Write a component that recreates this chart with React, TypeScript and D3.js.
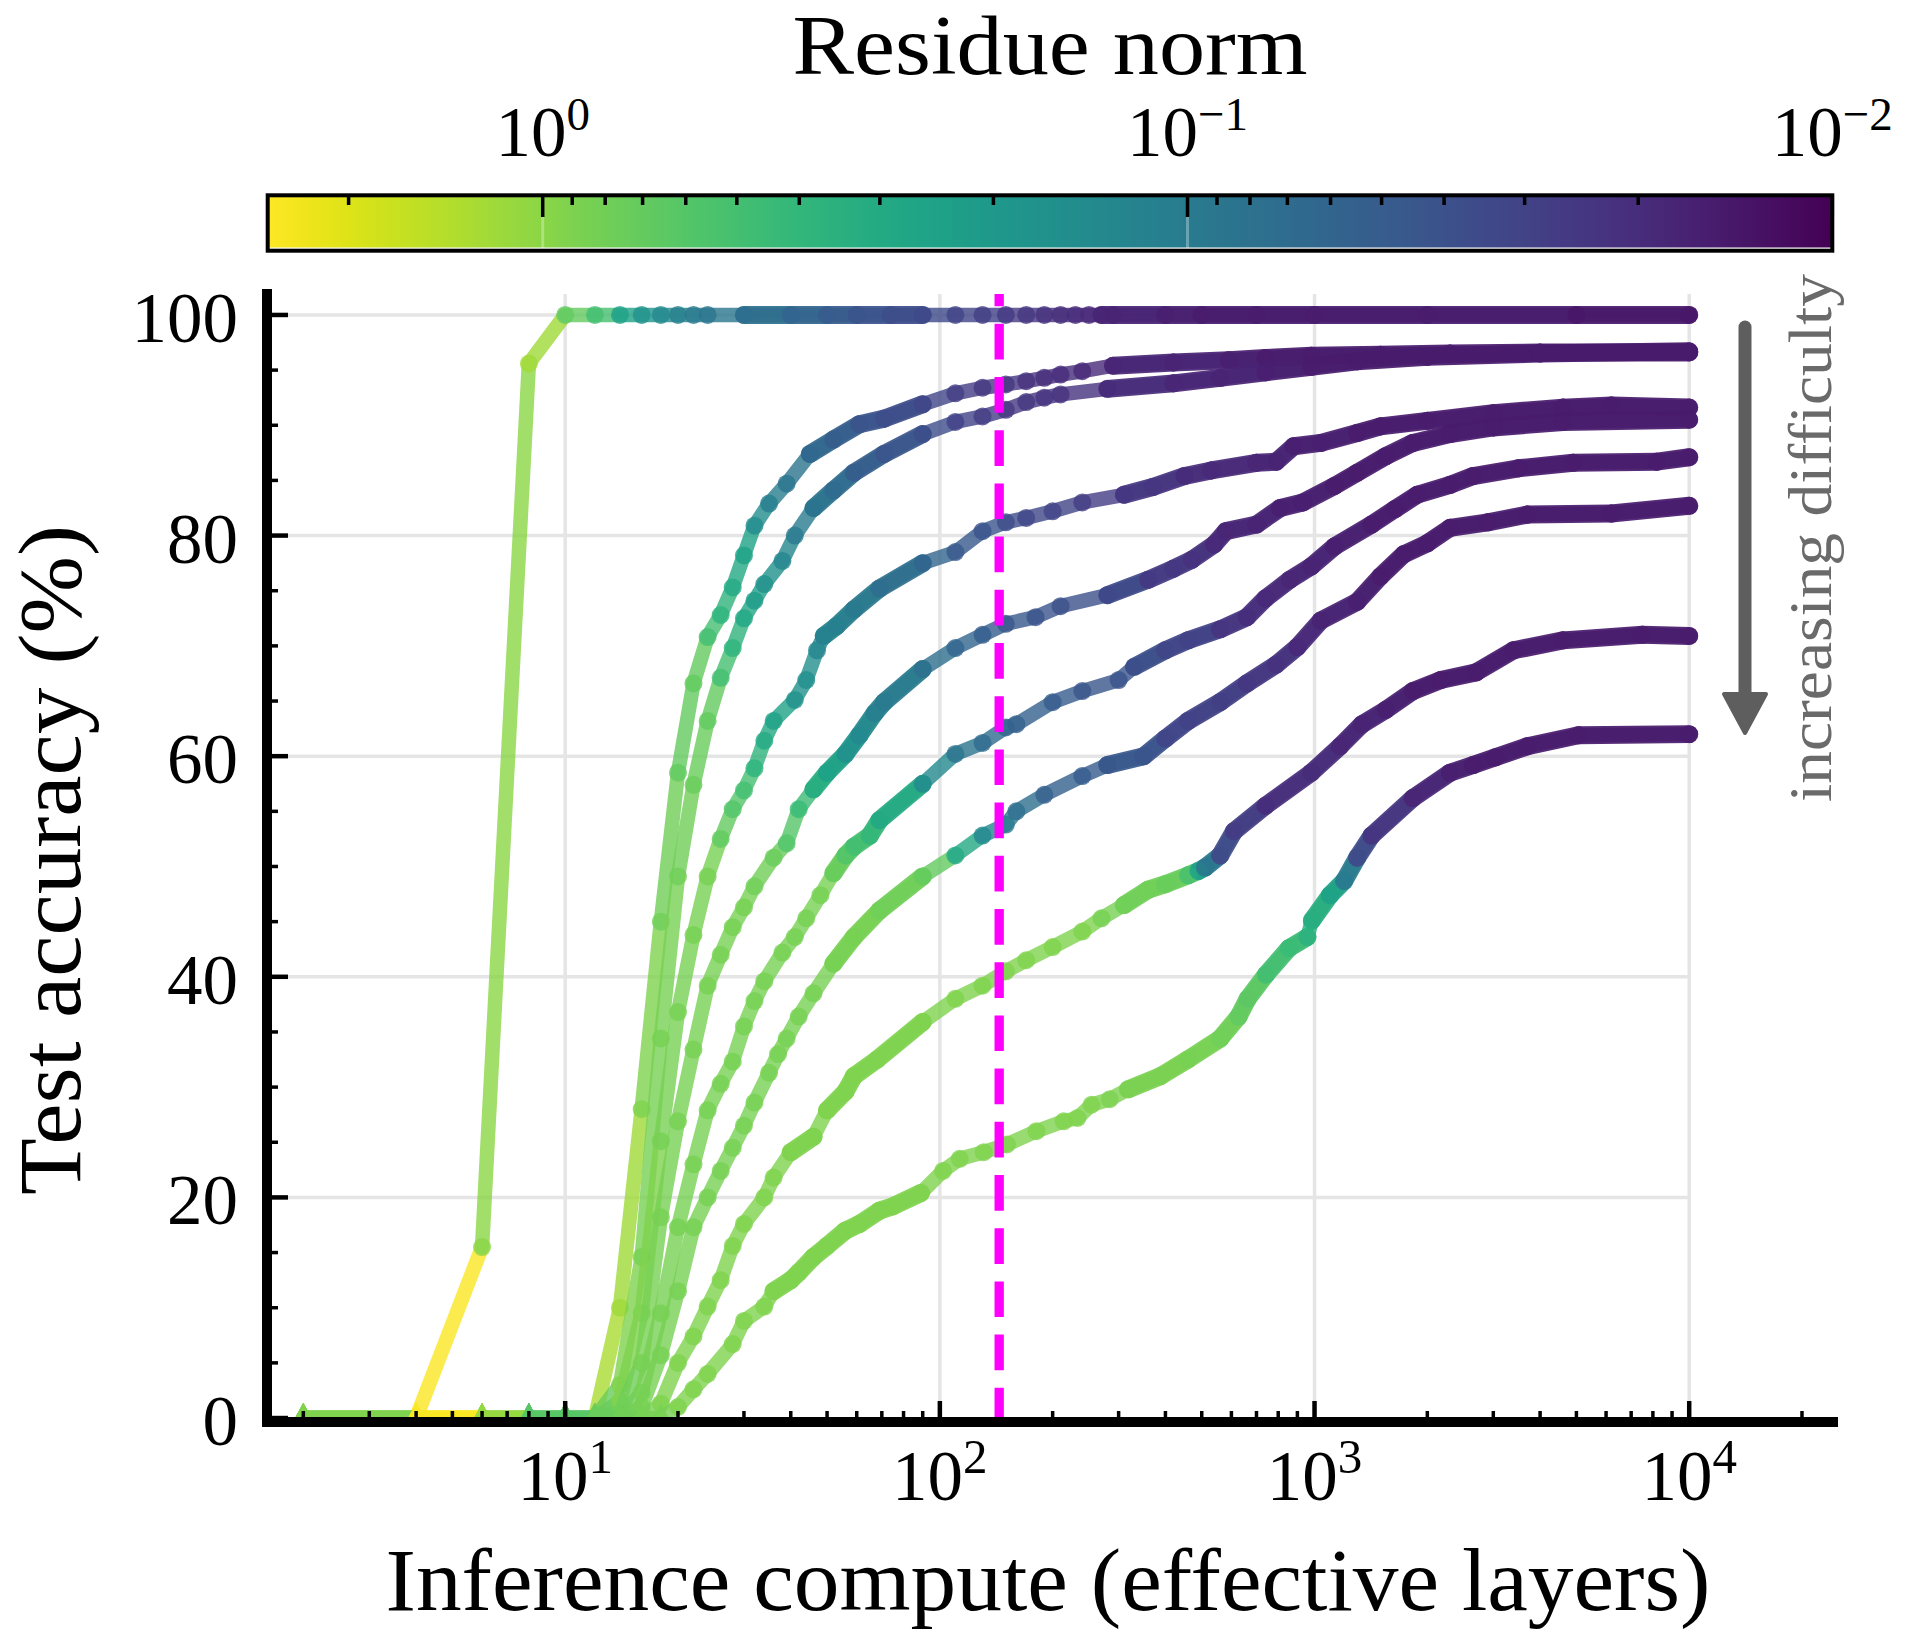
import { useEffect, useRef } from 'react';
import * as d3 from 'd3';

// one set per difficulty level: compute (effective layers), accuracy (%), residue norm
const computeL1 = [2, 4, 6, 8, 10, 12, 14, 16, 18, 20, 22, 24, 30, 40, 50, 60, 74, 90, 110, 130, 150, 170, 190, 210, 230, 250, 270, 290, 400, 500, 700, 1000, 2000, 5000, 10000];
const accuracyL1 = [0, 0, 15.5, 95.6, 100, 100, 100, 100, 100, 100, 100, 100, 100, 100, 100, 100, 100, 100, 100, 100, 100, 100, 100, 100, 100, 100, 100, 100, 100, 100, 100, 100, 100, 100, 100];
const residueL1 = [0.9, 2.6, 1.0, 1.2, 0.7, 0.5, 0.25, 0.18, 0.14, 0.115, 0.1, 0.09, 0.075, 0.06, 0.05, 0.043, 0.037, 0.034, 0.031, 0.028, 0.026, 0.024, 0.022, 0.021, 0.02, 0.019, 0.018, 0.017, 0.016, 0.015, 0.015, 0.015, 0.015, 0.014, 0.014];

const computeL2 = [2, 4, 6, 8, 10, 12, 14, 16, 18, 20, 22, 24, 26, 28, 30, 32, 35, 39, 45, 52, 61, 71, 90, 110, 130, 150, 170, 190, 210, 240, 290, 420, 590, 740, 980, 1500, 2300, 4000, 10000];
const accuracyL2 = [0, 0, 0, 0, 0, 0, 10, 28, 45, 58.5, 66.6, 70.8, 72.8, 75.3, 78.2, 80.9, 82.9, 84.7, 87.4, 88.7, 90.1, 90.6, 91.9, 92.9, 93.4, 93.7, 94.0, 94.3, 94.6, 94.9, 95.4, 95.7, 95.9, 96.1, 96.3, 96.4, 96.5, 96.6, 96.6];
const residueL2 = [0.9, 2.6, 1.1, 0.62, 0.62, 1.3, 1.2, 0.9, 0.8, 0.7, 0.7, 0.5, 0.38, 0.3, 0.25, 0.15, 0.11, 0.085, 0.065, 0.052, 0.043, 0.037, 0.032, 0.027, 0.025, 0.024, 0.022, 0.021, 0.02, 0.019, 0.018, 0.017, 0.016, 0.015, 0.015, 0.015, 0.015, 0.015, 0.015];

const computeL3 = [2, 4, 6, 8, 10, 12, 14, 16, 18, 20, 22, 24, 26, 28, 30, 32, 34, 38, 41, 46, 52, 59, 71, 90, 110, 130, 150, 170, 190, 210, 280, 420, 560, 740, 980, 1300, 2000, 4000, 10000];
const accuracyL3 = [0, 0, 0, 0, 0, 0, 3, 14.6, 34.4, 49.1, 57.4, 63.2, 67.1, 69.8, 72.5, 74.1, 75.6, 77.7, 80.0, 82.5, 84.1, 85.7, 87.4, 89.2, 90.3, 90.8, 91.4, 92.1, 92.5, 92.8, 93.3, 93.8, 94.3, 94.8, 95.3, 95.8, 96.2, 96.5, 96.7];
const residueL3 = [0.9, 2.6, 1.1, 0.62, 0.62, 0.74, 0.9, 0.85, 0.85, 0.8, 0.75, 0.7, 0.5, 0.38, 0.28, 0.22, 0.17, 0.13, 0.1, 0.085, 0.07, 0.052, 0.045, 0.037, 0.03, 0.027, 0.025, 0.024, 0.023, 0.022, 0.02, 0.018, 0.017, 0.016, 0.015, 0.015, 0.015, 0.015, 0.015];

const computeL4 = [2, 4, 6, 8, 10, 12, 14, 16, 18, 20, 22, 24, 26, 28, 30, 32, 34, 36, 41, 44, 47, 49, 53, 59, 69, 90, 110, 130, 150, 170, 200, 240, 310, 370, 450, 530, 700, 790, 880, 1040, 1300, 1500, 2000, 3000, 4600, 6200, 10000];
const accuracyL4 = [0, 0, 0, 0, 0, 0, 1.5, 9.5, 25.1, 36.8, 43.8, 49.1, 52.5, 55.2, 56.9, 58.9, 61.4, 63.2, 65.1, 66.9, 69.6, 70.9, 71.8, 73.3, 75.2, 77.5, 78.5, 80.4, 81.2, 81.6, 82.2, 83.0, 83.7, 84.4, 85.4, 85.9, 86.6, 86.7, 88.1, 88.4, 89.3, 89.9, 90.4, 91.1, 91.6, 91.8, 91.6];
const residueL4 = [0.9, 2.6, 1.1, 0.62, 0.62, 0.74, 0.9, 0.9, 0.85, 0.85, 0.85, 0.85, 0.7, 0.6, 0.5, 0.38, 0.3, 0.25, 0.17, 0.16, 0.13, 0.12, 0.11, 0.095, 0.075, 0.06, 0.048, 0.043, 0.037, 0.033, 0.031, 0.027, 0.024, 0.023, 0.02, 0.019, 0.018, 0.017, 0.016, 0.016, 0.015, 0.015, 0.015, 0.015, 0.015, 0.015, 0.015];

const computeL5 = [2, 4, 6, 8, 10, 12, 14, 16, 18, 20, 22, 24, 26, 28, 30, 32, 36, 39, 42, 46, 50, 56, 61, 67, 71, 90, 110, 130, 150, 180, 210, 280, 360, 420, 470, 540, 580, 700, 810, 930, 1130, 1300, 1550, 1830, 2300, 3000, 4600, 10000];
const accuracyL5 = [0, 0, 0, 0, 0, 0, 0.5, 5.0, 18.2, 26.9, 33.4, 39.2, 42.0, 44.5, 46.3, 48.2, 50.8, 52.1, 55.2, 57.0, 58.5, 60.2, 61.9, 63.9, 64.9, 67.9, 69.8, 71.0, 72.0, 72.6, 73.6, 74.6, 76.0, 77.0, 77.8, 79.2, 80.4, 81.0, 82.5, 83.0, 84.5, 85.7, 87.2, 88.4, 89.2, 89.8, 90.3, 90.5];
const residueL5 = [0.9, 2.6, 1.1, 0.62, 0.62, 0.74, 0.8, 0.85, 0.85, 0.85, 0.85, 0.85, 0.85, 0.85, 0.85, 0.8, 0.75, 0.6, 0.45, 0.33, 0.25, 0.17, 0.14, 0.11, 0.1, 0.075, 0.06, 0.052, 0.047, 0.043, 0.04, 0.034, 0.026, 0.024, 0.022, 0.019, 0.018, 0.017, 0.016, 0.016, 0.015, 0.015, 0.015, 0.015, 0.015, 0.015, 0.015, 0.015];

const computeL6 = [2, 4, 6, 8, 10, 12, 14, 16, 18, 20, 22, 24, 26, 28, 30, 32, 34, 38, 41, 44, 48, 52, 56, 59, 65, 69, 90, 110, 130, 150, 160, 200, 240, 300, 330, 400, 460, 560, 660, 740, 860, 980, 1130, 1420, 1640, 1880, 2300, 2650, 3500, 4900, 8200, 10000];
const accuracyL6 = [0, 0, 0, 0, 0, 0, 0, 2.3, 9.5, 17.3, 23.0, 27.9, 30.3, 32.3, 35.5, 37.8, 39.6, 42.2, 43.6, 45.3, 47.4, 49.4, 51.0, 51.8, 52.8, 54.2, 57.5, 60.2, 61.2, 62.6, 62.9, 64.9, 65.9, 66.9, 68.1, 69.6, 70.5, 71.5, 72.6, 74.3, 76.0, 77.2, 79.0, 81.0, 82.4, 83.7, 84.6, 85.4, 86.1, 86.6, 86.7, 87.1];
const residueL6 = [0.9, 2.6, 1.1, 0.62, 0.62, 0.74, 0.8, 0.85, 0.85, 0.85, 0.85, 0.85, 0.85, 0.85, 0.85, 0.85, 0.85, 0.85, 0.85, 0.85, 0.85, 0.75, 0.6, 0.5, 0.4, 0.3, 0.14, 0.085, 0.07, 0.06, 0.055, 0.05, 0.045, 0.043, 0.038, 0.032, 0.03, 0.023, 0.021, 0.019, 0.018, 0.017, 0.016, 0.015, 0.015, 0.015, 0.015, 0.015, 0.015, 0.015, 0.015, 0.015];

const computeL7 = [2, 4, 6, 8, 10, 12, 14, 16, 18, 20, 22, 24, 26, 28, 30, 32, 35, 37, 39, 42, 46, 52, 59, 69, 90, 110, 130, 150, 160, 190, 240, 280, 350, 400, 460, 560, 660, 790, 900, 1040, 1300, 1500, 1730, 2000, 2300, 2900, 3700, 6200, 10000];
const accuracyL7 = [0, 0, 0, 0, 0, 0, 0, 1, 5.7, 11.5, 17.3, 20.0, 22.4, 24.5, 26.5, 28.6, 31.3, 33.0, 34.4, 36.4, 38.5, 41.2, 43.6, 46.0, 49.1, 51.0, 52.8, 53.8, 55.0, 56.5, 58.2, 59.2, 60.0, 61.6, 63.2, 64.9, 66.6, 68.3, 69.9, 72.3, 74.0, 76.3, 78.3, 79.3, 80.7, 81.2, 81.9, 82.0, 82.7];
const residueL7 = [0.9, 2.6, 1.1, 0.62, 0.62, 0.74, 0.8, 0.85, 0.85, 0.85, 0.85, 0.85, 0.85, 0.85, 0.85, 0.85, 0.85, 0.85, 0.85, 0.85, 0.85, 0.85, 0.85, 0.8, 0.7, 0.3, 0.14, 0.1, 0.075, 0.055, 0.05, 0.046, 0.043, 0.032, 0.03, 0.028, 0.024, 0.022, 0.019, 0.017, 0.016, 0.015, 0.015, 0.015, 0.015, 0.015, 0.015, 0.015, 0.015];

const computeL8 = [2, 4, 6, 8, 10, 12, 14, 16, 18, 20, 22, 24, 26, 28, 30, 34, 36, 40, 46, 50, 56, 59, 68, 90, 110, 130, 150, 170, 200, 240, 270, 310, 360, 400, 460, 490, 510, 560, 610, 740, 980, 1170, 1340, 1550, 1830, 2170, 2700, 3400, 4600, 7500, 10000];
const accuracyL8 = [0, 0, 0, 0, 0, 0, 0, 0, 1.3, 5.0, 7.4, 10.1, 12.5, 15.6, 17.6, 20.0, 21.8, 24.1, 25.5, 27.9, 29.6, 31.0, 32.5, 35.9, 38.0, 39.2, 40.5, 41.5, 42.7, 44.1, 45.3, 46.5, 47.9, 48.4, 49.2, 49.6, 49.9, 51.0, 53.2, 55.5, 58.5, 60.9, 62.9, 64.2, 65.9, 66.9, 67.6, 69.6, 70.5, 71.0, 70.9];
const residueL8 = [0.9, 2.6, 1.1, 0.62, 0.62, 0.74, 0.8, 0.85, 0.9, 0.9, 0.9, 0.9, 0.9, 0.9, 0.9, 0.9, 0.9, 0.9, 0.9, 0.9, 0.9, 0.9, 0.9, 0.9, 0.9, 0.9, 0.9, 0.9, 0.9, 0.9, 0.85, 0.8, 0.8, 0.75, 0.55, 0.25, 0.09, 0.036, 0.027, 0.021, 0.02, 0.018, 0.017, 0.016, 0.015, 0.015, 0.015, 0.015, 0.015, 0.015, 0.015];

const computeL9 = [2, 4, 6, 8, 10, 12, 14, 16, 18, 20, 22, 24, 28, 30, 34, 36, 40, 42, 46, 50, 56, 61, 69, 75, 89, 102, 113, 131, 151, 181, 214, 233, 254, 284, 318, 388, 459, 560, 627, 663, 742, 855, 957, 984, 1100, 1200, 1300, 1420, 1830, 2300, 2650, 3040, 3700, 5060, 10000];
const accuracyL9 = [0, 0, 0, 0, 0, 0, 0, 0, 0, 1.0, 2.6, 4.0, 6.7, 8.8, 10.1, 11.5, 12.5, 13.2, 14.6, 15.6, 17.0, 17.6, 18.8, 19.2, 20.4, 22.4, 23.5, 24.1, 24.8, 26.0, 26.9, 27.2, 28.4, 28.9, 29.8, 31.0, 32.5, 34.4, 36.4, 38.0, 40.2, 42.6, 43.6, 45.1, 47.4, 48.7, 50.8, 52.8, 56.2, 58.5, 59.2, 59.9, 60.9, 61.9, 62.0];
const residueL9 = [0.9, 2.6, 1.1, 0.62, 0.62, 0.74, 0.8, 0.85, 0.85, 0.9, 0.9, 0.9, 0.9, 0.9, 0.9, 0.9, 0.9, 0.9, 0.9, 0.9, 0.9, 0.9, 0.9, 0.9, 0.9, 0.9, 0.9, 0.9, 0.9, 0.9, 0.9, 0.9, 0.9, 0.88, 0.87, 0.86, 0.85, 0.8, 0.7, 0.65, 0.5, 0.45, 0.35, 0.33, 0.25, 0.1, 0.036, 0.023, 0.018, 0.016, 0.015, 0.015, 0.015, 0.015, 0.015];

const xMajorTicks = [10, 100, 1000, 10000];
const xTickExponents = ['1', '2', '3', '4'];
const yMajorTicks = [0, 20, 40, 60, 80, 100];
const yTickLabels = ['0', '20', '40', '60', '80', '100'];
const cbarMajorTicks = [1, 0.1, 0.01];
const cbarTickExponents = ['0', '\u22121', '\u22122'];
const dashedCompute = 144;

const FONT = '"Liberation Serif", "Times New Roman", serif';

function App() {
  const chartRef = useRef<SVGSVGElement>(null);

  useEffect(() => {
    const svg = d3.select(chartRef.current);
    svg.selectAll('*').remove();

    const left = 267, right = 1833, top = 294, bottom = 1422;
    const x = d3.scaleLog().domain([1.6, 24200]).range([left, right]);
    const y = d3.scaleLinear().domain([-0.36, 101.9]).range([bottom, top]);
    const resToUnit = d3.scaleLog().domain([0.01, 2.67]).range([0, 1]).clamp(true);
    const color = (r: number) => d3.interpolateViridis(resToUnit(r));

    const curves = [
      { c: computeL1, a: accuracyL1, r: residueL1 },
      { c: computeL2, a: accuracyL2, r: residueL2 },
      { c: computeL3, a: accuracyL3, r: residueL3 },
      { c: computeL4, a: accuracyL4, r: residueL4 },
      { c: computeL5, a: accuracyL5, r: residueL5 },
      { c: computeL6, a: accuracyL6, r: residueL6 },
      { c: computeL7, a: accuracyL7, r: residueL7 },
      { c: computeL8, a: accuracyL8, r: residueL8 },
      { c: computeL9, a: accuracyL9, r: residueL9 },
    ];

    // minor log ticks
    const minorX: number[] = [];
    [1, 10, 100, 1000, 10000].forEach((d) => {
      for (let k = 2; k <= 9; k++) {
        const v = d * k;
        if (v > 1.6 && v < 24200) minorX.push(v);
      }
    });
    const minorY = d3.range(5, 101, 5).filter((v) => v % 20 !== 0);

    // grid
    const grid = svg.append('g');
    yMajorTicks.filter((t) => t > 0).forEach((t) => {
      grid.append('line')
        .attr('x1', left).attr('x2', x(10000))
        .attr('y1', y(t)).attr('y2', y(t))
        .attr('stroke', '#e5e5e5').attr('stroke-width', 3.5);
    });
    xMajorTicks.forEach((t) => {
      grid.append('line')
        .attr('x1', x(t)).attr('x2', x(t))
        .attr('y1', top).attr('y2', bottom)
        .attr('stroke', '#e5e5e5').attr('stroke-width', 3.5);
    });

    // curves
    curves.forEach((cv) => {
      const pts = cv.c.map((v, i) => ({ x: v, acc: cv.a[i], r: cv.r[i] }));
      const g = svg.append('g');
      const lineG = g.append('g').attr('opacity', 0.8);
      const bandG = g.append('g').attr('opacity', 0.92);
      for (let i = 0; i < pts.length - 1; i++) {
        const p = pts[i], q = pts[i + 1];
        lineG.append('line')
          .attr('x1', x(p.x)).attr('y1', y(p.acc))
          .attr('x2', x(q.x)).attr('y2', y(q.acc))
          .attr('stroke', color(p.r)).attr('stroke-width', 14.5)
          .attr('stroke-linecap', 'round');
        // where the original samples sit closer than a marker, they merge into a band
        const step = p.x < 85 ? 2 : 20;
        const slope = (q.acc - p.acc) / (q.x - p.x);
        const gap = Math.hypot(x(p.x + step) - x(p.x), y(p.acc + slope * step) - y(p.acc));
        if (gap < 12 && p.acc > 0) {
          bandG.append('line')
            .attr('x1', x(p.x)).attr('y1', y(p.acc))
            .attr('x2', x(q.x)).attr('y2', y(q.acc))
            .attr('stroke', color(p.r)).attr('stroke-width', 18)
            .attr('stroke-linecap', 'round');
        }
      }
      pts.forEach((p) => {
        if (p.acc === 0) {
          const cx = x(p.x), cy = y(0);
          g.append('path')
            .attr('d', `M${cx},${cy - 15}L${cx + 13},${cy + 9}L${cx - 13},${cy + 9}Z`)
            .attr('fill', color(p.r)).attr('opacity', 0.9);
        } else {
          g.append('circle')
            .attr('cx', x(p.x)).attr('cy', y(p.acc)).attr('r', 9)
            .attr('fill', color(p.r)).attr('opacity', 0.8);
        }
      });
    });

    // dashed marker
    svg.append('line')
      .attr('x1', x(dashedCompute)).attr('x2', x(dashedCompute))
      .attr('y1', bottom + 1.5).attr('y2', top)
      .attr('stroke', '#ff00ff').attr('stroke-width', 9.3)
      .attr('stroke-dasharray', '35.7 17.5');

    // spines
    svg.append('line')
      .attr('x1', left).attr('x2', left).attr('y1', top).attr('y2', bottom)
      .attr('stroke', '#000').attr('stroke-width', 10).attr('stroke-linecap', 'square');
    svg.append('line')
      .attr('x1', left).attr('x2', right).attr('y1', bottom).attr('y2', bottom)
      .attr('stroke', '#000').attr('stroke-width', 10).attr('stroke-linecap', 'square');

    // ticks
    const ticks = svg.append('g').attr('stroke', '#000');
    yMajorTicks.forEach((t) => {
      ticks.append('line').attr('x1', left).attr('x2', left + 21)
        .attr('y1', y(t)).attr('y2', y(t)).attr('stroke-width', 4.5);
    });
    minorY.forEach((t) => {
      ticks.append('line').attr('x1', left).attr('x2', left + 11)
        .attr('y1', y(t)).attr('y2', y(t)).attr('stroke-width', 3.5);
    });
    xMajorTicks.forEach((t) => {
      ticks.append('line').attr('x1', x(t)).attr('x2', x(t))
        .attr('y1', bottom).attr('y2', bottom - 21).attr('stroke-width', 4.5);
    });
    minorX.forEach((t) => {
      ticks.append('line').attr('x1', x(t)).attr('x2', x(t))
        .attr('y1', bottom).attr('y2', bottom - 11).attr('stroke-width', 3.5);
    });

    // tick labels
    yMajorTicks.forEach((t, i) => {
      svg.append('text')
        .attr('x', 238).attr('y', y(t) + 27)
        .attr('text-anchor', 'end').attr('font-family', FONT).attr('font-size', 71)
        .text(yTickLabels[i]);
    });
    xMajorTicks.forEach((t, i) => {
      const tx = svg.append('text')
        .attr('x', x(t)).attr('y', 1500)
        .attr('text-anchor', 'middle').attr('font-family', FONT).attr('font-size', 71);
      tx.append('tspan').text('10');
      tx.append('tspan').attr('dy', -27).attr('font-size', 49).text(xTickExponents[i]);
    });

    // axis labels
    svg.append('text')
      .attr('x', 1048).attr('y', 1610)
      .attr('text-anchor', 'middle').attr('font-family', FONT).attr('font-size', 88)
      .attr('textLength', 1325).attr('lengthAdjust', 'spacingAndGlyphs')
      .text('Inference compute (effective layers)');
    svg.append('text')
      .attr('transform', 'translate(80,860) rotate(-90)')
      .attr('text-anchor', 'middle').attr('font-family', FONT).attr('font-size', 88)
      .attr('textLength', 670).attr('lengthAdjust', 'spacingAndGlyphs')
      .text('Test accuracy (%)');

    // difficulty arrow
    const arrowColor = '#5e5e5e';
    svg.append('line')
      .attr('x1', 1745).attr('x2', 1745).attr('y1', 327).attr('y2', 700)
      .attr('stroke', arrowColor).attr('stroke-width', 13).attr('stroke-linecap', 'round');
    svg.append('path')
      .attr('d', 'M1724,694L1766,694L1745,733Z')
      .attr('fill', arrowColor).attr('stroke', arrowColor)
      .attr('stroke-width', 4).attr('stroke-linejoin', 'round');
    svg.append('text')
      .attr('transform', 'translate(1831,538) rotate(-90)')
      .attr('text-anchor', 'middle').attr('font-family', FONT).attr('font-size', 62)
      .attr('fill', '#6a6a6a')
      .attr('textLength', 528).attr('lengthAdjust', 'spacingAndGlyphs')
      .text('increasing difficulty');

    // colorbar
    const cbLeft = 267.7, cbRight = 1832.3, cbTop = 195.3, cbBottom = 250.7;
    const cb = d3.scaleLog().domain([2.67, 0.01]).range([cbLeft, cbRight]);
    const defs = svg.append('defs');
    const grad = defs.append('linearGradient').attr('id', 'viridisBar')
      .attr('x1', '0%').attr('x2', '100%').attr('y1', '0%').attr('y2', '0%');
    d3.range(0, 41).forEach((i) => {
      grad.append('stop').attr('offset', `${(i / 40) * 100}%`)
        .attr('stop-color', d3.interpolateViridis(1 - i / 40));
    });
    svg.append('rect')
      .attr('x', cbLeft).attr('y', cbTop).attr('width', cbRight - cbLeft).attr('height', cbBottom - cbTop)
      .attr('fill', 'url(#viridisBar)');
    cbarMajorTicks.slice(0, 2).forEach((t) => {
      svg.append('line').attr('x1', cb(t)).attr('x2', cb(t))
        .attr('y1', 217).attr('y2', cbBottom)
        .attr('stroke', '#fff').attr('stroke-opacity', 0.3).attr('stroke-width', 3);
    });
    svg.append('line').attr('x1', cbLeft).attr('x2', cbRight)
      .attr('y1', cbBottom - 2.5).attr('y2', cbBottom - 2.5)
      .attr('stroke', '#fff').attr('stroke-width', 1.5);
    svg.append('rect')
      .attr('x', cbLeft).attr('y', cbTop).attr('width', cbRight - cbLeft).attr('height', cbBottom - cbTop)
      .attr('fill', 'none').attr('stroke', '#000').attr('stroke-width', 4);
    const cbMinor: number[] = [2];
    [0.1, 0.01].forEach((d) => {
      for (let k = 2; k <= 9; k++) cbMinor.push(d * k);
    });
    cbarMajorTicks.forEach((t) => {
      svg.append('line').attr('x1', cb(t)).attr('x2', cb(t))
        .attr('y1', cbTop).attr('y2', 217).attr('stroke', '#000').attr('stroke-width', 3.5);
    });
    cbMinor.forEach((t) => {
      svg.append('line').attr('x1', cb(t)).attr('x2', cb(t))
        .attr('y1', cbTop).attr('y2', 205).attr('stroke', '#000').attr('stroke-width', 3.5);
    });
    cbarMajorTicks.forEach((t, i) => {
      const tx = svg.append('text')
        .attr('x', cb(t)).attr('y', 156)
        .attr('text-anchor', 'middle').attr('font-family', FONT).attr('font-size', 71);
      tx.append('tspan').text('10');
      tx.append('tspan').attr('dy', -26).attr('font-size', 47).text(cbarTickExponents[i]);
    });
    svg.append('text')
      .attr('x', 1050).attr('y', 74)
      .attr('text-anchor', 'middle').attr('font-family', FONT).attr('font-size', 84)
      .attr('textLength', 515).attr('lengthAdjust', 'spacingAndGlyphs')
      .text('Residue norm');
  }, []);

  return (
    <svg
      ref={chartRef}
      width={1916}
      height={1645}
      style={{ position: 'absolute', left: 0, top: 0, background: '#fff' }}
    ></svg>
  );
}

export default App;
